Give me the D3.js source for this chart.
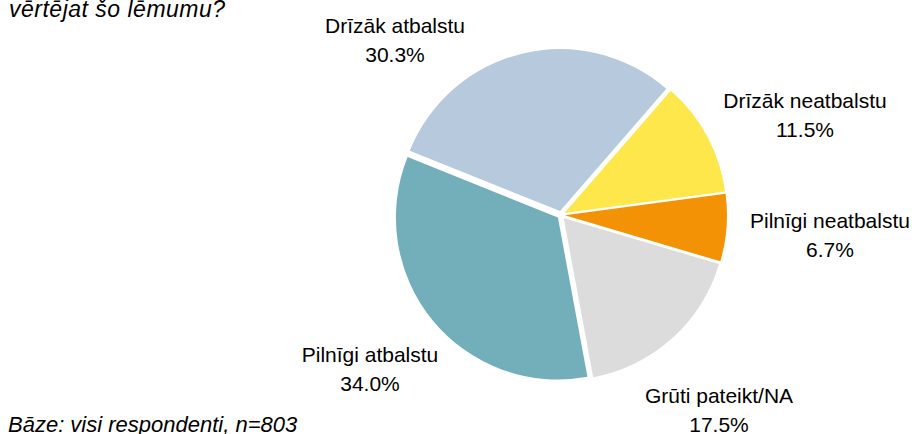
<!DOCTYPE html>
<html><head><meta charset="utf-8">
<script src="https://cdn.jsdelivr.net/npm/d3@7"></script>
<style>
html,body{margin:0;padding:0;background:#fff;}
text{font-family:"Liberation Sans",Arial,sans-serif;fill:#000;}
</style></head>
<body>
<svg id="chart" width="912" height="434"></svg>
<script>
const categories = ["Pilnīgi atbalstu", "Drīzāk atbalstu", "Drīzāk neatbalstu", "Pilnīgi neatbalstu", "Grūti pateikt/NA"];
const values = [34.0, 30.3, 11.5, 6.7, 17.5];
const colors = ["#72afbb", "#b7c9dd", "#fee74a", "#f39204", "#dcdcdc"];
const titleText = "vērtējat šo lēmumu?";
const footText = "Bāze: visi respondenti, n=803";

// layout (label anchors: centre x, first baseline y)
const labelPos = [[370, 362], [395, 33], [805, 108], [830, 228], [719, 403]];
const cx = 561, cy = 215, R = 162, explode = 4;
const startDeg = 169.5;

const svg = d3.select("#chart");
svg.append("text").attr("x", 9).attr("y", 17).attr("font-size", 23)
  .attr("letter-spacing", 0.5).attr("font-style", "italic").text(titleText);
svg.append("text").attr("x", 8).attr("y", 432).attr("font-size", 22)
  .attr("font-style", "italic").text(footText);

const start = startDeg * Math.PI / 180;
const pie = d3.pie().sort(null).value(d => d).startAngle(start).endAngle(start + 2 * Math.PI);
const arcs = pie(values);
const arc = d3.arc().innerRadius(0).outerRadius(R);

const g = svg.append("g").attr("transform", `translate(${cx},${cy})`);
g.selectAll("path").data(arcs).join("path")
  .attr("d", arc)
  .attr("fill", (d, i) => colors[i])
  .attr("transform", d => {
    const m = (d.startAngle + d.endAngle) / 2;
    return `translate(${explode * Math.sin(m)},${-explode * Math.cos(m)})`;
  });

arcs.forEach((d, i) => {
  const t = svg.append("text").attr("text-anchor", "middle").attr("font-size", 21);
  t.append("tspan").attr("x", labelPos[i][0]).attr("y", labelPos[i][1]).text(categories[i]);
  t.append("tspan").attr("x", labelPos[i][0]).attr("y", labelPos[i][1] + 29).text(values[i].toFixed(1) + "%");
});
</script>
</body></html>
